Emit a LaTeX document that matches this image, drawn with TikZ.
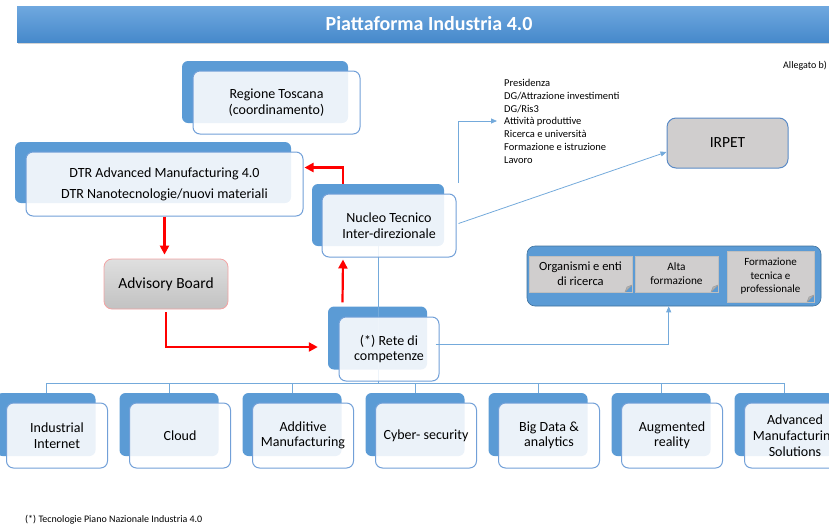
\documentclass[tikz,border=0pt]{standalone}
\usepackage{fontspec}
\setmainfont{Carlito}
\usetikzlibrary{
    arrows.meta,
    calc,
    positioning,
    shadows
}
\definecolor{bkblue}{HTML}{5B9BD5}
\definecolor{lnblue}{HTML}{72A0D8}
\definecolor{ttop}{HTML}{6FA8DF}
\definecolor{tbot}{HTML}{4689CB}
\definecolor{notegray}{HTML}{D0CECE}
\definecolor{grpline}{HTML}{41719C}
\definecolor{advline}{HTML}{F2A3A3}
\definecolor{irpline}{HTML}{5A8AC6}

\tikzset{
    bar/.style={top color=ttop, bottom color=tbot, minimum width=824pt, minimum height=36pt, inner sep=0pt,
        text=white, font=\fontsize{20}{24}\selectfont\bfseries,
        drop shadow={shadow xshift=1pt, shadow yshift=-2pt, opacity=0.35}},
    backbox/.style={fill=bkblue, rounded corners=6pt, minimum width=99pt, minimum height=63pt, inner sep=0pt},
    frontbox/.style={draw=lnblue, line width=1pt, fill=white, fill opacity=0.88, text opacity=1,
        rounded corners=7pt, minimum width=101pt, minimum height=65pt, inner sep=0pt,
        align=center, font=\fontsize{14}{15.5}\selectfont},
    notebox/.style={fill=notegray, draw=gray!50, line width=0.5pt, inner sep=0pt, align=center,
        path picture={
            \fill[bkblue] ([xshift=-7pt]path picture bounding box.south east) -- (path picture bounding box.south east)
                -- ([yshift=7pt]path picture bounding box.south east) -- cycle;
            \filldraw[fill=gray!60, draw=gray!75] ([xshift=-7pt]path picture bounding box.south east) -- ([yshift=7pt]path picture bounding box.south east)
                -- ([xshift=-5pt, yshift=5pt]path picture bounding box.south east) -- cycle;}},
    link/.style={draw=bkblue!85, line width=0.8pt},
    bluearrow/.style={link, -{Triangle[length=6pt, width=5pt]}},
    redarrow/.style={draw=red, line width=2.2pt, -{Triangle[length=9pt, width=9pt]}}
}

\begin{document}
\begin{tikzpicture}[x=1pt, y=-1pt]
    \useasboundingbox (0,0) rectangle (829,528);
    \clip (0,0) rectangle (829,528);

    \node[bar] (bar) at (429,24) {Piattaforma Industria 4.0};
    \node[anchor=east, inner sep=0pt, font=\fontsize{10}{12}\selectfont] (alg) at (827,66) {Allegato b)};

    \node[backbox, minimum width=166pt, minimum height=62pt] (regB) at (265,92) {};
    \node[backbox, minimum width=276pt, minimum height=61pt] (dtrB) at (153,172.5) {};
    \node[backbox, minimum width=132pt, minimum height=62pt] (nucB) at (378,215) {};
    \node[backbox] (retB) at (377.5,338) {};
    \node[backbox] (b1) at (46,424.5) {};
    \node[backbox] (b2) at (169,424.5) {};
    \node[backbox] (b3) at (292,424.5) {};
    \node[backbox] (b4) at (415,424.5) {};
    \node[backbox] (b5) at (538,424.5) {};
    \node[backbox] (b6) at (661,424.5) {};
    \node[backbox] (b7) at (784,424.5) {};

    \coordinate (bus) at (0,383);
    \draw[link] (nucB.south) -- (nucB.south |- bus);
    \draw[link] (b1.north) -- (b1.north |- bus) -- (b7.north |- bus) -- (b7.north);
    \draw[link]
    (b2.north) -- (b2.north |- bus)
    (b3.north) -- (b3.north |- bus)
    (b4.north) -- (b4.north |- bus)
    (b5.north) -- (b5.north |- bus)
    (b6.north) -- (b6.north |- bus);

    \node[frontbox, minimum width=167pt, minimum height=63pt] (regF) at (276.5,102.5) {Regione Toscana\\(coordinamento)};
    \node[frontbox, minimum width=277pt, minimum height=64pt, font=\fontsize{14}{21}\selectfont] (dtrF) at (164.5,184) {DTR Advanced Manufacturing 4.0\\DTR Nanotecnologie/nuovi materiali};
    \node[frontbox, minimum width=134pt, minimum height=63pt] (nucF) at (389,225.5) {Nucleo Tecnico\\Inter-direzionale};
    \node[frontbox, minimum width=100pt, minimum height=64pt] (retF) at (389,349) {(*) Rete di\\competenze};
    \node[frontbox] (f1) at (57,435.5) {Industrial\\Internet};
    \node[frontbox] (f2) at (180,435.5) {Cloud};
    \node[frontbox] (f3) at (303,435.5) {Additive\\Manufacturing};
    \node[frontbox] (f4) at (426,435.5) {Cyber- security};
    \node[frontbox] (f5) at (549,435.5) {Big Data \&\\analytics};
    \node[frontbox] (f6) at (672,435.5) {Augmented\\reality};
    \node[frontbox, font=\fontsize{14}{16}\selectfont] (f7) at (795,435.5) {Advanced\\Manufacturing\\Solutions};

    \node[draw=advline, line width=0.8pt, top color=gray!25, bottom color=gray!48, rounded corners=8pt,
        minimum width=124pt, minimum height=50pt, font=\fontsize{15.5}{18}\selectfont] (adv) at (166,284) {Advisory Board};
    \node[draw=irpline, line width=1pt, fill=notegray, rounded corners=9pt,
        minimum width=121pt, minimum height=50pt, font=\fontsize{15.5}{18}\selectfont] (irp) at (727.5,143) {IRPET};

    \node[anchor=north west, align=left, inner sep=0pt, font=\fontsize{10.5}{12.8}\selectfont] (lst) at (504,79)
    {Presidenza\\DG/Attrazione investimenti\\DG/Ris3\\Attività produttive\\Ricerca e università\\Formazione e istruzione\\Lavoro};

    \node[fill=bkblue, draw=grpline, line width=0.6pt, rounded corners=8pt, minimum width=294pt, minimum height=60pt] (grp) at (674,276) {};
    \node[notebox, minimum width=103pt, minimum height=36pt, font=\fontsize{12.5}{15}\selectfont] (n1) at (580.5,274) {Organismi e enti\\di ricerca};
    \node[notebox, minimum width=83pt, minimum height=36pt, font=\fontsize{11.3}{14}\selectfont] (n2) at (676.5,274) {Alta\\formazione};
    \node[notebox, minimum width=87pt, minimum height=51pt, font=\fontsize{11}{13.5}\selectfont] (n3) at (770.5,276.5) {Formazione\\tecnica e\\professionale};

    \node[anchor=west, inner sep=0pt, font=\fontsize{10}{12}\selectfont] (fn) at (25,520) {(*) Tecnologie Piano Nazionale Industria 4.0};

    \coordinate (lstin) at (497,121);
    \draw[bluearrow] ($(nucF.north east)+(2,-11)$) |- (lstin);
    \draw[bluearrow] ($(nucF.east)+(2,-2)$) -- ($(irp.west)+(0,9)$);
    \draw[bluearrow] ($(retF.east)+(-4,-5)$) -| ($(grp.south west)+(142,0)$);

    \draw[redarrow] ($(nucB.north)+(-35,0)$) |- ($(dtrF.north east)+(1,16)$);
    \draw[redarrow] (dtrF.south) -- ($(dtrF.south |- adv.north)+(0,-4)$);
    \draw[redarrow] ($(adv.south)+(0,3)$) |- ($(retB.west)+(-10,9)$);
    \draw[redarrow] ($(retB.north)+(-35,-4)$) -- ($(nucF.south)+(-46,2)$);
\end{tikzpicture}
\end{document}
